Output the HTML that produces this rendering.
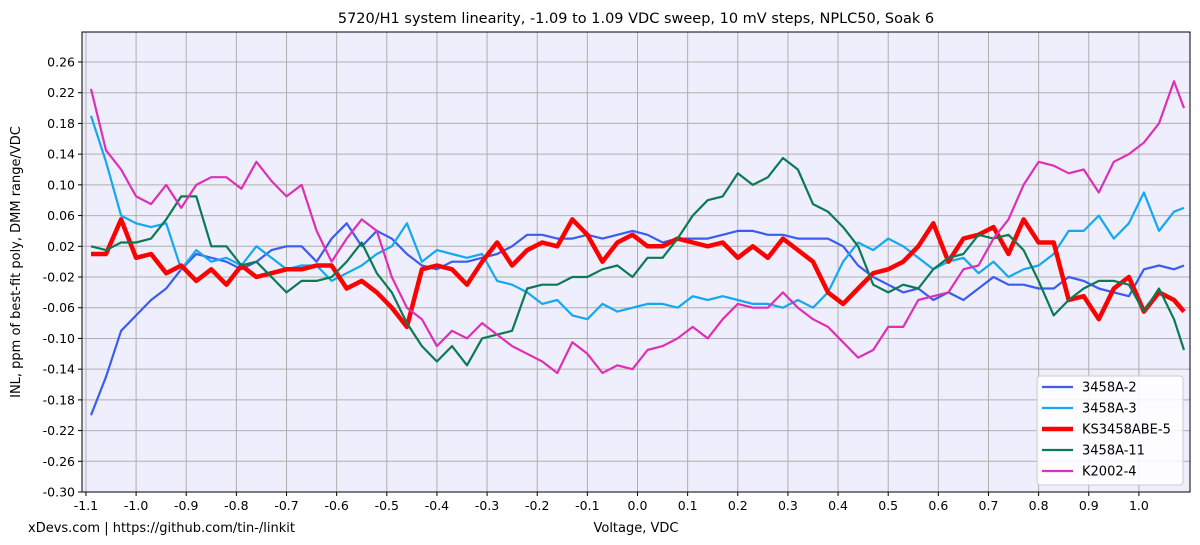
<!DOCTYPE html>
<html><head><meta charset="utf-8"><style>
body{margin:0;background:#fff;}
svg{font-family:"DejaVu Sans","Liberation Sans",sans-serif;}
</style></head><body>
<svg id="chart" width="1200" height="540" xmlns="http://www.w3.org/2000/svg">
<rect width="1200" height="540" fill="#fff"/>
<text x="636" y="23" font-size="14.5" text-anchor="middle">5720/H1 system linearity, -1.09 to 1.09 VDC sweep, 10 mV steps, NPLC50, Soak 6</text>
<rect x="82" y="32" width="1108" height="460" fill="#eeeefc"/>
<g id="grid"></g><g id="series"></g>
<rect x="82" y="32" width="1108" height="460" fill="none" stroke="#000" stroke-width="1"/>
<g id="ticks" font-size="12.5"></g>
<text x="636" y="532" font-size="13" text-anchor="middle">Voltage, VDC</text>
<text transform="translate(20,262) rotate(-90)" font-size="13" text-anchor="middle">INL, ppm of best-fit poly, DMM range/VDC</text>
<text x="28" y="532" font-size="13">xDevs.com | https://github.com/tin-/linkit</text>
<g id="legend"></g>
</svg>
<script>
const volts=[-1.09,-1.06,-1.03,-1.0,-0.97,-0.94,-0.91,-0.88,-0.85,-0.82,-0.79,-0.76,-0.73,-0.70,-0.67,-0.64,-0.61,-0.58,-0.55,-0.52,-0.49,-0.46,-0.43,-0.40,-0.37,-0.34,-0.31,-0.28,-0.25,-0.22,-0.19,-0.16,-0.13,-0.10,-0.07,-0.04,-0.01,0.02,0.05,0.08,0.11,0.14,0.17,0.20,0.23,0.26,0.29,0.32,0.35,0.38,0.41,0.44,0.47,0.50,0.53,0.56,0.59,0.62,0.65,0.68,0.71,0.74,0.77,0.80,0.83,0.86,0.89,0.92,0.95,0.98,1.01,1.04,1.07,1.09];
const s3458A2=[-0.20,-0.15,-0.09,-0.07,-0.05,-0.035,-0.01,0.01,0.005,0.0,-0.01,0.0,0.015,0.02,0.02,0.0,0.03,0.05,0.02,0.04,0.03,0.01,-0.005,-0.01,0.0,0.0,0.005,0.01,0.02,0.035,0.035,0.03,0.03,0.035,0.03,0.035,0.04,0.035,0.025,0.03,0.03,0.03,0.035,0.04,0.04,0.035,0.035,0.03,0.03,0.03,0.02,-0.005,-0.02,-0.03,-0.04,-0.035,-0.05,-0.04,-0.05,-0.035,-0.02,-0.03,-0.03,-0.035,-0.035,-0.02,-0.025,-0.035,-0.04,-0.045,-0.01,-0.005,-0.01,-0.005];
const s3458A3=[0.19,0.13,0.06,0.05,0.045,0.05,-0.01,0.015,0.0,0.005,-0.005,0.02,0.005,-0.01,-0.005,-0.005,-0.025,-0.015,-0.005,0.01,0.02,0.05,0.0,0.015,0.01,0.005,0.01,-0.025,-0.03,-0.04,-0.055,-0.05,-0.07,-0.075,-0.055,-0.065,-0.06,-0.055,-0.055,-0.06,-0.045,-0.05,-0.045,-0.05,-0.055,-0.055,-0.06,-0.05,-0.06,-0.04,0.0,0.025,0.015,0.03,0.02,0.005,-0.01,0.0,0.005,-0.015,0.0,-0.02,-0.01,-0.005,0.01,0.04,0.04,0.06,0.03,0.05,0.09,0.04,0.065,0.07];
const sKS=[0.01,0.01,0.055,0.005,0.01,-0.015,-0.005,-0.025,-0.01,-0.03,-0.005,-0.02,-0.015,-0.01,-0.01,-0.005,-0.005,-0.035,-0.025,-0.04,-0.06,-0.085,-0.01,-0.005,-0.01,-0.03,0.0,0.025,-0.005,0.015,0.025,0.02,0.055,0.035,0.0,0.025,0.035,0.02,0.02,0.03,0.025,0.02,0.025,0.005,0.02,0.005,0.03,0.015,0.0,-0.04,-0.055,-0.035,-0.015,-0.01,0.0,0.02,0.05,0.0,0.03,0.035,0.045,0.01,0.055,0.025,0.025,-0.05,-0.045,-0.075,-0.035,-0.02,-0.065,-0.04,-0.05,-0.065];
const s3458A11=[0.02,0.015,0.025,0.025,0.03,0.055,0.085,0.085,0.02,0.02,-0.005,0.0,-0.02,-0.04,-0.025,-0.025,-0.02,0.0,0.025,-0.015,-0.04,-0.08,-0.11,-0.13,-0.11,-0.135,-0.10,-0.095,-0.09,-0.035,-0.03,-0.03,-0.02,-0.02,-0.01,-0.005,-0.02,0.005,0.005,0.03,0.06,0.08,0.085,0.115,0.10,0.11,0.135,0.12,0.075,0.065,0.045,0.02,-0.03,-0.04,-0.03,-0.035,-0.01,0.005,0.01,0.035,0.03,0.035,0.015,-0.025,-0.07,-0.05,-0.035,-0.025,-0.025,-0.03,-0.065,-0.035,-0.075,-0.115];
const sK2002=[0.225,0.145,0.12,0.085,0.075,0.10,0.07,0.10,0.11,0.11,0.095,0.13,0.105,0.085,0.10,0.04,0.0,0.03,0.055,0.04,-0.02,-0.06,-0.075,-0.11,-0.09,-0.10,-0.08,-0.095,-0.11,-0.12,-0.13,-0.145,-0.105,-0.12,-0.145,-0.135,-0.14,-0.115,-0.11,-0.10,-0.085,-0.10,-0.075,-0.055,-0.06,-0.06,-0.04,-0.06,-0.075,-0.085,-0.105,-0.125,-0.115,-0.085,-0.085,-0.05,-0.045,-0.04,-0.01,-0.005,0.03,0.055,0.10,0.13,0.125,0.115,0.12,0.09,0.13,0.14,0.155,0.18,0.235,0.20];
const seriesNames=["3458A-2","3458A-3","KS3458ABE-5","3458A-11","K2002-4"];
const xTicks=[-1.1,-1.0,-0.9,-0.8,-0.7,-0.6,-0.5,-0.4,-0.3,-0.2,-0.1,0.0,0.1,0.2,0.3,0.4,0.5,0.6,0.7,0.8,0.9,1.0];
const yTicks=[-0.30,-0.26,-0.22,-0.18,-0.14,-0.10,-0.06,-0.02,0.02,0.06,0.10,0.14,0.18,0.22,0.26];
const seriesData=[s3458A2,s3458A3,sKS,s3458A11,sK2002];
const colors=["#3a5cf0","#13a8ef","#ff0000","#0b7a55","#de30b6"];
const widths=[2.2,2.2,4.5,2.2,2.2];
const NS="http://www.w3.org/2000/svg";
const X=v=>637.5+v*501.4, Y=v=>62+(0.26-v)*767.9;
function mk(t,a,p){const e=document.createElementNS(NS,t);for(const k in a)e.setAttribute(k,a[k]);p.appendChild(e);return e;}
const grid=document.getElementById('grid'),ticks=document.getElementById('ticks');
xTicks.forEach(v=>{const x=X(v);
 const l=mk('line',{x1:x,x2:x,y1:32,y2:492,stroke:'#b0b0b0','stroke-width':1},grid);
 
 
 mk('line',{x1:x,x2:x,y1:492,y2:496,stroke:'#000'},ticks);
 const t=mk('text',{x:x,y:510,'text-anchor':'middle'},ticks);t.textContent=v.toFixed(1);
 
 });
yTicks.forEach(v=>{const y=Y(v);
 const l=mk('line',{x1:82,x2:1190,y1:y,y2:y,stroke:'#b0b0b0','stroke-width':1},grid);
 
 
 mk('line',{x1:78,x2:82,y1:y,y2:y,stroke:'#000'},ticks);
 const t=mk('text',{x:75,y:y+4.5,'text-anchor':'end'},ticks);t.textContent=v.toFixed(2);
 
 });
const sg=document.getElementById('series');
seriesData.forEach((d,i)=>{const pts=d.map((v,j)=>X(volts[j]).toFixed(1)+','+Y(v).toFixed(1)).join(' ');
 const p=mk('polyline',{points:pts,fill:'none',stroke:colors[i],'stroke-width':widths[i],'stroke-linejoin':'round'},sg);
 
 });
const lg=document.getElementById('legend');
const box=mk('rect',{x:1037,y:376,width:146,height:109,rx:3,fill:'#fff','fill-opacity':0.85,stroke:'#ccc'},lg);


seriesNames.forEach((n,i)=>{const y=387+i*21;
 mk('line',{x1:1042,x2:1073,y1:y,y2:y,stroke:colors[i],'stroke-width':widths[i]},lg);
 const t=mk('text',{x:1082,y:y+4.5,'font-size':13},lg);t.textContent=n;
 
 });
</script>
</body></html>
